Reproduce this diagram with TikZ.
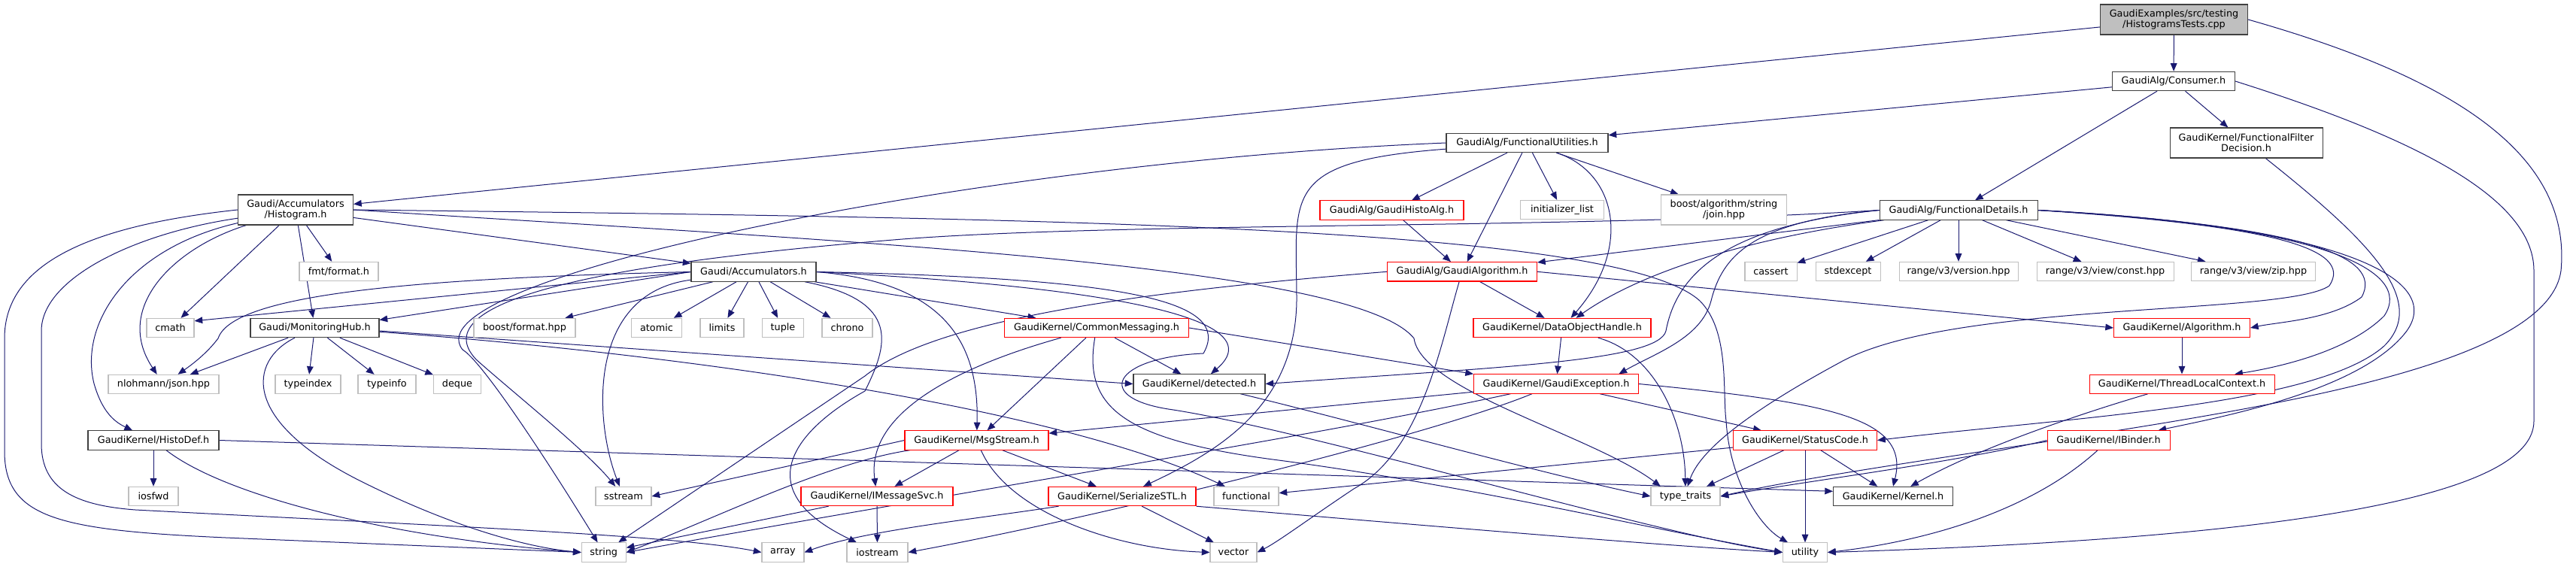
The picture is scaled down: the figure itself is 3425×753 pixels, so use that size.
\documentclass[tikz,border=0pt]{standalone}
\usepackage{fontspec}
\setmainfont{DejaVu Sans}
\usetikzlibrary{arrows.meta}
\definecolor{edgec}{HTML}{191970}
\definecolor{gbord}{HTML}{BFBFBF}
\definecolor{kbord}{HTML}{404040}
\definecolor{rbord}{HTML}{FF0000}
\definecolor{tfill}{HTML}{BFBFBF}
\pgfdeclarelayer{bg}
\pgfsetlayers{bg,main}
\begin{document}
\begin{tikzpicture}[x=0.75pt,y=-0.75pt,
 base/.style={rectangle, fill=white, line width=0.8pt, inner xsep=2pt, inner ysep=0pt, minimum height=19pt, align=center, font=\fontsize{9.6pt}{10.5pt}\selectfont, text=black},
 gbox/.style={base, draw=gbord, minimum width=#1*0.75pt},
 kbox/.style={base, draw=kbord, minimum width=#1*0.75pt},
 rbox/.style={base, draw=rbord, minimum width=#1*0.75pt},
 tall/.style={minimum height=30pt},
 e/.style={draw=edgec, line width=0.75pt, -{Triangle[length=8pt,width=6.5pt]}},
]
\useasboundingbox (0,0) rectangle (3425,753);
% row 0
\node[kbox=196, tall, fill=tfill] (tests) at (2890.5,26) {GaudiExamples/src/testing\\/HistogramsTests.cpp};
\node[kbox=163] (consumer) at (2890,108) {GaudiAlg/Consumer.h};
\node[kbox=203, tall] (ffd) at (2986.5,190) {GaudiKernel/FunctionalFilter\\Decision.h};
\node[kbox=215] (fu) at (2030.5,190) {GaudiAlg/FunctionalUtilities.h};
% row 279
\node[kbox=153, tall] (hist) at (393,279) {Gaudi/Accumulators\\/Histogram.h};
\node[kbox=210] (fd) at (2604,279.5) {GaudiAlg/FunctionalDetails.h};
\node[rbox=191] (gha) at (1850.5,279.5) {GaudiAlg/GaudiHistoAlg.h};
\node[gbox=111] (initl) at (2077,279) {initializer\_list};
\node[gbox=167, tall] (bjoin) at (2292,279) {boost/algorithm/string\\/join.hpp};
% row 361
\node[gbox=105] (fmt) at (450.5,361) {fmt/format.h};
\node[kbox=166] (acc) at (1002,361.5) {Gaudi/Accumulators.h};
\node[rbox=199] (ga) at (1944,361.3) {GaudiAlg/GaudiAlgorithm.h};
\node[gbox=69] (cassert) at (2354.5,361) {cassert};
\node[gbox=86] (stdexcept) at (2457,361) {stdexcept};
\node[gbox=158] (rver) at (2604,361) {range/v3/version.hpp};
\node[gbox=182] (rconst) at (2799,361) {range/v3/view/const.hpp};
\node[gbox=165] (rzip) at (2996,361) {range/v3/view/zip.hpp};
% row 436
\node[gbox=63] (cmath) at (226.5,436) {cmath};
\node[kbox=171] (mh) at (418.5,436) {Gaudi/MonitoringHub.h};
\node[gbox=135] (bfmt) at (697.5,436) {boost/format.hpp};
\node[gbox=67] (atomic) at (873,436) {atomic};
\node[gbox=58] (limits) at (960,436) {limits};
\node[gbox=55] (tuple) at (1041,436) {tuple};
\node[gbox=67] (chrono) at (1126.5,436) {chrono};
\node[rbox=245] (cm) at (1458,436) {GaudiKernel/CommonMessaging.h};
\node[rbox=236] (doh) at (2077,436) {GaudiKernel/DataObjectHandle.h};
\node[rbox=181] (alg) at (2901,436) {GaudiKernel/Algorithm.h};
% row 511
\node[gbox=147] (json) at (217.5,511) {nlohmann/json.hpp};
\node[gbox=87] (typeindex) at (409.5,511) {typeindex};
\node[gbox=77] (typeinfo) at (514.5,511) {typeinfo};
\node[gbox=63] (deque) at (608,511) {deque};
\node[kbox=175] (detected) at (1594.5,510.5) {GaudiKernel/detected.h};
\node[rbox=219] (gexc) at (2069,510.5) {GaudiKernel/GaudiException.h};
\node[rbox=246] (tlc) at (2901,510.7) {GaudiKernel/ThreadLocalContext.h};
% row 585
\node[kbox=174] (histodef) at (204,585.5) {GaudiKernel/HistoDef.h};
\node[rbox=191] (msgs) at (1298.5,585.5) {GaudiKernel/MsgStream.h};
\node[rbox=191] (sc) at (2400,585.5) {GaudiKernel/StatusCode.h};
\node[rbox=163] (ibinder) at (2803.5,585.5) {GaudiKernel/IBinder.h};
% row 660
\node[gbox=66] (iosfwd) at (204,660) {iosfwd};
\node[gbox=74] (sstream) at (829,660) {sstream};
\node[rbox=202] (imsg) at (1166,660) {GaudiKernel/IMessageSvc.h};
\node[rbox=196] (sstl) at (1492,660) {GaudiKernel/SerializeSTL.h};
\node[gbox=86] (functional) at (1657,660) {functional};
\node[gbox=92] (typetraits) at (2241,660) {type\_traits};
\node[kbox=159] (kernel) at (2517,660) {GaudiKernel/Kernel.h};
% row 734
\node[gbox=59] (string) at (802.7,734.5) {string};
\node[gbox=56] (array) at (1041,734.5) {array};
\node[gbox=81] (iostream) at (1166.5,734.5) {iostream};
\node[gbox=62] (vector) at (1640,734.5) {vector};
\node[gbox=59] (utility) at (2400,734.5) {utility};

\begin{pgfonlayer}{bg}
% Tests
\draw[e] (tests) -- (hist);
\draw[e] (tests) -- (consumer);
\draw[e] (tests.east) .. controls (3250,100) and (3420,200) .. (3405,360) .. controls (3390,470) and (3100,525) .. (2880,562) .. controls (2650,600) and (2420,630) .. (typetraits.east);
% Consumer
\draw[e] (consumer) -- (fu);
\draw[e] (consumer) -- (fd);
\draw[e] (consumer) -- (ffd);
\draw[e] (consumer.east) .. controls (3200,180) and (3369,260) .. (3369,360) -- (3369,560) .. controls (3369,680) and (2900,720) .. (utility.east);
% FilterDecision
\draw[e] (ffd) .. controls (3150,320) and (3230,400) .. (3170,460) .. controls (3080,540) and (2750,555) .. (sc.east);
% FunctionalUtilities
\draw[e] (fu) -- (gha);
\draw[e] (fu) -- (ga);
\draw[e] (fu) -- (initl);
\draw[e] (fu) -- (bjoin);
\draw[e] (fu) .. controls (2150,230) and (2170,330) .. (doh);
\draw[e] (fu) .. controls (1700,215) and (1724,260) .. (1724,400) .. controls (1722,540) and (1620,600) .. (sstl);
\draw[e] (fu.west) .. controls (1300,215) and (540,370) .. (615,465) .. controls (640,480) and (720,600) .. (string);
% GaudiHistoAlg
\draw[e] (gha) -- (ga);
% FunctionalDetails
\draw[e] (fd) -- (ga);
\draw[e] (fd) .. controls (2300,320) and (2170,370) .. (doh);
\draw[e] (fd.west) .. controls (2330,295) and (2290,340) .. (2275,400) .. controls (2262,450) and (2200,470) .. ([xshift=-20pt]gexc.north east);
\draw[e] (fd.west) .. controls (2300,300) and (2230,360) .. (2215,440) .. controls (2205,480) and (2000,488) .. (detected.east);
\draw[e] (fd.west) .. controls (2100,305) and (1500,295) .. (1200,318) .. controls (800,350) and (560,400) .. (633,478) .. controls (680,520) and (780,600) .. (sstream);
\draw[e] (fd) -- (cassert);
\draw[e] (fd) -- (stdexcept);
\draw[e] (fd) -- (rver);
\draw[e] (fd) -- (rconst);
\draw[e] (fd) -- (rzip);
\draw[e] (fd.east) .. controls (3020,300) and (3130,330) .. (3097,380) .. controls (3040,420) and (2600,400) .. (2450,480) .. controls (2320,550) and (2260,600) .. ([xshift=2pt]typetraits.north);
\draw[e] (fd.east) .. controls (3060,300) and (3170,340) .. (3140,395) .. controls (3100,425) and (3030,428) .. (alg.east);
\draw[e] (fd.east) .. controls (3090,300) and (3210,360) .. (3170,420) .. controls (3120,470) and (3020,490) .. ([xshift=-40pt]tlc.north east);
\draw[e] (fd.east) .. controls (3110,300) and (3250,370) .. (3200,440) .. controls (3140,520) and (2950,555) .. ([xshift=-12pt]ibinder.north east);
% GaudiAlgorithm
\draw[e] (ga) -- (doh);
\draw[e] (ga.east) -- (alg.west);
\draw[e] (ga.west) .. controls (1550,385) and (1250,420) .. (1150,500) -- (string);
\draw[e] (ga) .. controls (1915,460) and (1890,600) .. (1800,650) .. controls (1740,690) and (1700,720) .. (vector.east);
% DataObjectHandle
\draw[e] (doh) -- (gexc);
\draw[e] (doh) .. controls (2200,470) and (2240,560) .. (typetraits);
% Algorithm, TLC, IBinder
\draw[e] (alg) -- (tlc);
\draw[e] (tlc) .. controls (2800,540) and (2640,590) .. (kernel);
\draw[e] (ibinder.west) .. controls (2600,615) and (2400,640) .. (typetraits.east);
\draw[e] (ibinder) .. controls (2700,680) and (2560,720) .. (utility.east);
% GaudiException
\draw[e] (gexc) -- (msgs);
\draw[e] (gexc) .. controls (1750,580) and (1300,650) .. (string.east);
\draw[e] (gexc) .. controls (1900,580) and (1450,690) .. (iostream.east);
\draw[e] (gexc) -- (sc);
\draw[e] (gexc.east) .. controls (2430,535) and (2540,555) .. (kernel.north);
% StatusCode
\draw[e] (sc) -- (typetraits);
\draw[e] (sc) -- (utility);
\draw[e] (sc) -- (kernel);
\draw[e] (sc) -- (functional);
% Histogram
\draw[e] (hist) -- (acc);
\draw[e] (hist) -- (mh);
\draw[e] (hist) -- (fmt);
\draw[e] (hist) -- (cmath);
\draw[e] (hist) .. controls (230,330) and (150,410) .. (json);
\draw[e] (hist) .. controls (170,330) and (105,430) .. (125,510) .. controls (135,545) and (150,560) .. (histodef);
\draw[e] (hist.west) .. controls (120,300) and (6,350) .. (6,450) -- (6,600) .. controls (6,690) and (80,705) .. (300,715) -- (string.west);
\draw[e] (hist) .. controls (180,310) and (55,370) .. (55,440) -- (55,590) .. controls (55,650) and (100,672) .. (180,678) .. controls (600,700) and (900,712) .. (array.west);
\draw[e] (hist.east) .. controls (1100,320) and (1800,350) .. (1880,450) .. controls (1890,520) and (2120,580) .. ([xshift=10pt]typetraits.north west);
\draw[e] (hist.east) .. controls (1400,290) and (2150,300) .. (2260,400) .. controls (2300,440) and (2290,520) .. (2295,560) .. controls (2300,640) and (2340,700) .. (utility);
% Accumulators
\draw[e] (acc) -- (bfmt);
\draw[e] (acc) -- (atomic);
\draw[e] (acc) -- (limits);
\draw[e] (acc) -- (tuple);
\draw[e] (acc) -- (chrono);
\draw[e] (acc.west) -- ([yshift=-3pt]cmath.north east);
\draw[e] (acc.west) -- ([yshift=-2pt]mh.north east);
\draw[e] (acc.west) .. controls (560,370) and (310,390) .. (290,450) .. controls (275,470) and (255,485) .. (json);
\draw[e] (acc) .. controls (780,390) and (790,560) .. (sstream);
\draw[e] (acc) .. controls (1200,400) and (1180,460) .. (1150,520) .. controls (1060,570) and (990,650) .. (iostream);
\draw[e] (acc) -- (cm);
\draw[e] (acc.east) .. controls (1250,375) and (1302,450) .. (msgs);
\draw[e] (acc.east) .. controls (1450,380) and (1700,420) .. (detected);
\draw[e] (acc.east) .. controls (1500,370) and (1640,400) .. (1600,470) .. controls (1480,475) and (1450,530) .. (1560,545) .. controls (1750,575) and (2200,710) .. (utility.west);
% MonitoringHub
\draw[e] (mh) -- (json);
\draw[e] (mh) -- (typeindex);
\draw[e] (mh) -- (typeinfo);
\draw[e] (mh) -- (deque);
\draw[e] (mh) .. controls (330,480) and (320,560) .. (480,640) .. controls (600,700) and (700,728) .. (string.west);
\draw[e] ([yshift=-3pt]mh.east) -- (detected.west);
\draw[e] ([yshift=-4pt]mh.east) .. controls (900,470) and (1400,540) .. (functional);
% HistoDef
\draw[e] (histodef) -- (iosfwd);
\draw[e] (histodef) .. controls (300,660) and (520,715) .. (string.west);
\draw[e] (histodef.east) -- ([yshift=5pt]kernel.west);
% CommonMessaging
\draw[e] (cm) .. controls (1300,480) and (1150,540) .. (imsg);
\draw[e] (cm) -- (msgs);
\draw[e] (cm) -- (detected);
\draw[e] (cm.east) -- (gexc.north west);
\draw[e] (cm) .. controls (1440,540) and (1490,585) .. (1700,612) .. controls (1950,645) and (2200,705) .. (utility.west);
% MsgStream
\draw[e] (msgs) -- (imsg);
\draw[e] (msgs) -- (sstl);
\draw[e] (msgs) .. controls (1340,680) and (1480,730) .. (vector.west);
\draw[e] (msgs.west) -- (sstream.east);
\draw[e] (msgs) .. controls (1100,615) and (950,690) .. (string.east);
% IMessageSvc
\draw[e] (imsg) -- (string);
\draw[e] (imsg) -- (iostream);
% SerializeSTL
\draw[e] (sstl) .. controls (1300,690) and (1150,705) .. (array.east);
\draw[e] (sstl) -- (vector);
\draw[e] (sstl.south east) .. controls (1850,695) and (2200,725) .. (utility.west);
% detected
\draw[e] (detected) .. controls (1800,560) and (2050,630) .. (typetraits.west);
\end{pgfonlayer}
\end{tikzpicture}
\end{document}
